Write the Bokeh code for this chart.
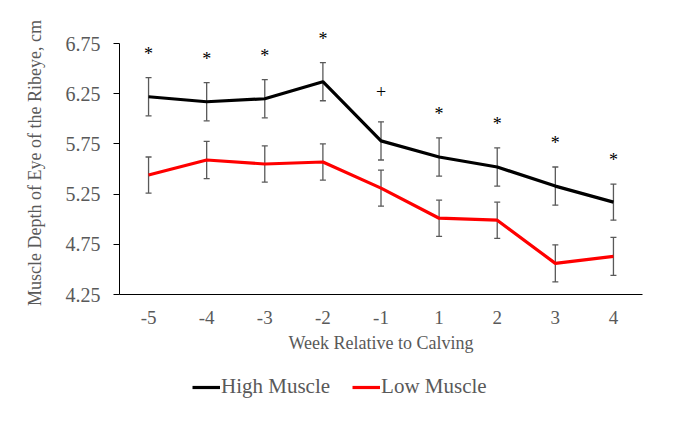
from bokeh.plotting import figure
from bokeh.layouts import column
from bokeh.models import (ColumnDataSource, FactorRange, Range1d, FixedTicker,
                          PrintfTickFormatter, Whisker, TeeHead, Legend, LegendItem)
from bokeh.core.properties import value
from bokeh.embed import file_html
from bokeh.resources import INLINE

# Ribeye muscle depth by week relative to calving (mean ± SE)
weeks = ["-5", "-4", "-3", "-2", "-1", "1", "2", "3", "4"]
high_muscle = [6.22, 6.17, 6.20, 6.37, 5.78, 5.62, 5.52, 5.33, 5.17]
high_se = [0.19, 0.19, 0.19, 0.19, 0.19, 0.19, 0.19, 0.19, 0.18]
low_muscle = [5.44, 5.59, 5.55, 5.57, 5.31, 5.01, 4.99, 4.56, 4.63]
low_se = [0.18, 0.185, 0.18, 0.18, 0.18, 0.18, 0.18, 0.185, 0.19]
significance = ["*", "*", "*", "*", "+", "*", "*", "*", "*"]
y_ticks = [4.25, 4.75, 5.25, 5.75, 6.25, 6.75]
series_names = ["High Muscle", "Low Muscle"]
series_colors = ["black", "#FF0000"]

FONT = "Liberation Serif"
GREY = "#595959"

high_src = ColumnDataSource(dict(
    week=weeks, y=high_muscle,
    upper=[m + s for m, s in zip(high_muscle, high_se)],
    lower=[m - s for m, s in zip(high_muscle, high_se)],
))
low_src = ColumnDataSource(dict(
    week=weeks, y=low_muscle,
    upper=[m + s for m, s in zip(low_muscle, low_se)],
    lower=[m - s for m, s in zip(low_muscle, low_se)],
))
# significance marks float above the High Muscle error bar
sig_offset = {"*": -24, "+": -30}
sig_src = ColumnDataSource(dict(
    week=weeks, text=significance,
    y=[m + s for m, s in zip(high_muscle, high_se)],
    dy=[sig_offset[t] for t in significance],
))

# headroom above the top tick leaves space for the significance marks
p = figure(
    width=685, height=365,
    x_range=FactorRange(factors=weeks, range_padding=0),
    y_range=Range1d(4.25, 6.87),
    output_backend="svg", toolbar_location=None,
    min_border_left=119, min_border_right=43,
    min_border_top=31, min_border_bottom=71,
)
p.outline_line_color = None
p.xgrid.visible = False
p.ygrid.visible = False
p.background_fill_color = "white"
p.border_fill_color = "white"

# axes
p.yaxis.bounds = (4.25, 6.75)
p.yaxis.ticker = FixedTicker(ticks=y_ticks)
p.yaxis.formatter = PrintfTickFormatter(format="%.2f")
p.yaxis.axis_line_color = "black"
p.yaxis.major_tick_line_color = "black"
p.yaxis.major_tick_out = 6
p.yaxis.major_tick_in = 0
p.yaxis.minor_tick_line_color = None
p.yaxis.major_label_standoff = 13
p.yaxis.major_label_text_font = FONT
p.yaxis.major_label_text_font_size = "20px"
p.yaxis.major_label_text_color = GREY
p.yaxis.axis_label = "Muscle Depth of Eye of the Ribeye, cm"
p.yaxis.axis_label_text_font = FONT
p.yaxis.axis_label_text_font_size = "18px"
p.yaxis.axis_label_text_font_style = "normal"
p.yaxis.axis_label_text_color = GREY
p.yaxis.axis_label_standoff = 18

p.xaxis.axis_line_color = "black"
p.xaxis.major_tick_line_color = None
p.xaxis.major_tick_out = 0
p.xaxis.minor_tick_line_color = None
p.xaxis.major_label_standoff = 16
p.xaxis.major_label_text_font = FONT
p.xaxis.major_label_text_font_size = "19px"
p.xaxis.major_label_text_color = GREY
p.xaxis.axis_label = "Week Relative to Calving"
p.xaxis.axis_label_text_font = FONT
p.xaxis.axis_label_text_font_size = "18px"
p.xaxis.axis_label_text_font_style = "normal"
p.xaxis.axis_label_text_color = GREY
p.xaxis.axis_label_standoff = 6

# error bars
for src in (high_src, low_src):
    p.add_layout(Whisker(
        source=src, base="week", upper="upper", lower="lower",
        line_color=GREY, line_width=1.3,
        upper_head=TeeHead(size=6, line_color=GREY, line_width=1.3),
        lower_head=TeeHead(size=6, line_color=GREY, line_width=1.3),
    ))

# series lines
sources = [high_src, low_src]
for src, color in zip(sources, series_colors):
    p.line("week", "y", source=src, line_color=color, line_width=3.2)

# significance markers
p.text("week", "y", text="text", source=sig_src, y_offset="dy",
       text_font=value(FONT), text_font_size="18px", text_color="black",
       text_align="center", text_baseline="alphabetic")

# legend strip under the chart; its frame shows only the key, the series
# themselves fall outside its y range
leg = figure(
    width=685, height=58, x_range=p.x_range, y_range=Range1d(0, 1),
    x_axis_type=None, y_axis_type=None,
    output_backend="svg", toolbar_location=None,
    min_border_left=119, min_border_right=43,
    min_border_top=0, min_border_bottom=0,
)
leg.outline_line_color = None
leg.xgrid.visible = False
leg.ygrid.visible = False
items = []
for name, src, color in zip(series_names, sources, series_colors):
    r = leg.line("week", "y", source=src, line_color=color, line_width=3.2)
    items.append(LegendItem(label=name, renderers=[r]))
legend = Legend(
    items=items, location=(73, 24), orientation="horizontal",
    label_text_font=FONT, label_text_font_size="21px", label_text_color=GREY,
    glyph_width=28, glyph_height=20, label_standoff=1, spacing=22,
    padding=0, margin=0, border_line_color=None, background_fill_alpha=0,
)
leg.add_layout(legend)

open("out.html", "w").write(file_html(column(p, leg, spacing=0), INLINE))
